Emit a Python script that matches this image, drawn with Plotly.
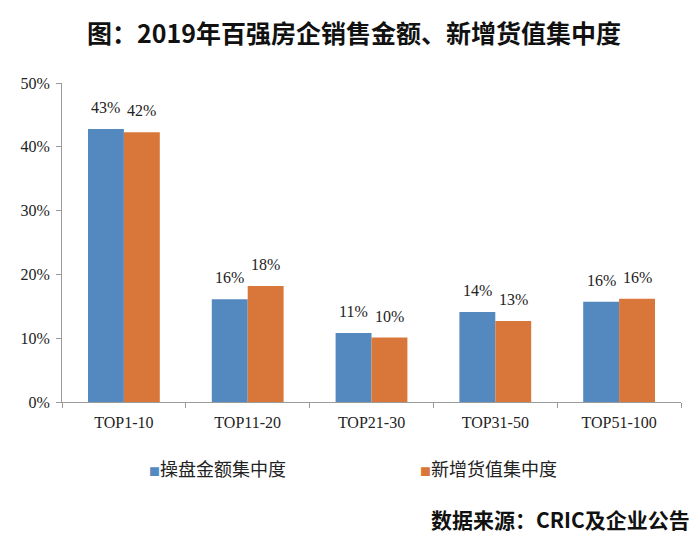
import plotly.graph_objects as go

categories = ["TOP1-10", "TOP11-20", "TOP21-30", "TOP31-50", "TOP51-100"]
series_names = ["操盘金额集中度", "新增货值集中度"]
operating_values = [0.428, 0.161, 0.108, 0.141, 0.157]
new_value_values = [0.423, 0.182, 0.101, 0.127, 0.162]
operating_labels = ["43%", "16%", "11%", "14%", "16%"]
new_value_labels = ["42%", "18%", "10%", "13%", "16%"]
y_ticks = [0, 0.1, 0.2, 0.3, 0.4, 0.5]
y_tick_labels = ["0%", "10%", "20%", "30%", "40%", "50%"]

BLUE = "#5389BF"
ORANGE = "#D9773A"
SERIF = "Liberation Serif, 'Noto Sans CJK SC', serif"
CJK = "'Noto Sans CJK SC', sans-serif"

fig = go.Figure()
for name, vals, color in [(series_names[0], operating_values, BLUE),
                          (series_names[1], new_value_values, ORANGE)]:
    fig.add_trace(go.Bar(x=categories, y=vals, name=name,
                         marker=dict(color=color, line=dict(width=0)),
                         showlegend=False))

annotations = []
for labels, vals, shift in [(operating_labels, operating_values, -18),
                            (new_value_labels, new_value_values, 18)]:
    for c, v, t in zip(categories, vals, labels):
        annotations.append(dict(x=c, y=v, xref="x", yref="y", text=t,
                                showarrow=False, xshift=shift, yshift=11,
                                yanchor="bottom",
                                font=dict(family=SERIF, size=16, color="#222")))

# title
annotations.append(dict(text="<b>图：2019年百强房企销售金额、新增货值集中度</b>",
                        xref="paper", yref="paper", x=0.472, y=1.0, yshift=51,
                        xanchor="center", yanchor="middle", showarrow=False,
                        font=dict(family=CJK, size=25, color="#111")))
# legend (manual)
for name, color, xp in [(series_names[0], BLUE, 0.138), (series_names[1], ORANGE, 0.575)]:
    annotations.append(dict(text=f'<span style="color:{color};font-size:11px">■</span>{name}',
                            xref="paper", yref="paper", x=xp, y=-0.207,
                            xanchor="left", yanchor="middle", showarrow=False,
                            font=dict(family=CJK, size=18, color="#222")))
# source
annotations.append(dict(text="<b>数据来源：CRIC及企业公告</b>",
                        xref="paper", yref="paper", x=1.0, xshift=11, y=-0.368,
                        xanchor="right", yanchor="middle", showarrow=False,
                        font=dict(family=CJK, size=21, color="#111")))

fig.update_layout(
    width=692, height=537,
    margin=dict(l=54, r=19, t=75, b=143),
    paper_bgcolor="white", plot_bgcolor="white",
    barmode="group", bargap=0.42, bargroupgap=0,
    annotations=annotations,
    font=dict(family=SERIF, color="#222"),
)
fig.update_yaxes(range=[0, 0.5], tickvals=y_ticks, ticktext=y_tick_labels,
                 showgrid=False, zeroline=False, showline=True, linecolor="#9a9a9a",
                 linewidth=1, ticks="outside", ticklen=5, tickcolor="#9a9a9a",
                 ticklabelstandoff=3,
                 tickfont=dict(family=SERIF, size=16, color="#222"))
fig.update_xaxes(showgrid=False, showline=True, linecolor="#9a9a9a", linewidth=1,
                 ticks="outside", ticklen=5, tickcolor="#9a9a9a",
                 tickson="boundaries", ticklabelstandoff=6,
                 tickfont=dict(family=SERIF, size=16, color="#222"))

fig.write_html("out.html")
